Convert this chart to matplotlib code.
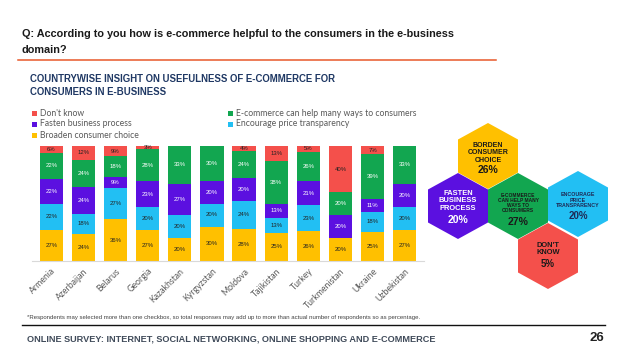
import matplotlib
matplotlib.use("Agg")
import matplotlib.pyplot as plt
from matplotlib.patches import Polygon, Rectangle
import numpy as np

# data (percent of respondents)
countries = ["Armenia", "Azerbaijan", "Belarus", "Georgia", "Kazakhstan", "Kyrgyzstan",
             "Moldova", "Tajikistan", "Turkey", "Turkmenistan", "Ukraine", "Uzbekistan"]
broaden = [27, 24, 36, 27, 20, 30, 28, 25, 26, 20, 25, 27]
encourage = [22, 18, 27, 20, 20, 20, 24, 13, 23, 0, 18, 20]
fasten = [22, 24, 9, 23, 27, 20, 20, 13, 21, 20, 11, 20]
ecommerce = [22, 24, 18, 28, 33, 30, 24, 38, 26, 20, 39, 33]
dont_know = [6, 12, 9, 3, 0, 0, 4, 13, 5, 40, 7, 0]

series_names = ["Broaden consumer choice", "Encourage price transparency", "Fasten business process",
                "E-commerce can help many ways to consumers", "Don't know"]
colors = ["#FFC000", "#22BFF3", "#5B10E0", "#12A650", "#F4504B"]
seg_text = ["#222222", "#222222", "white", "white", "#222222"]

# overall shares shown in the honeycomb
hex_labels = ["BORDEN\nCONSUMER\nCHOICE", "FASTEN\nBUSINESS\nPROCESS",
              "E-COMMERCE\nCAN HELP MANY\nWAYS TO\nCONSUMERS", "ENCOURAGE\nPRICE\nTRANSPARENCY",
              "DON'T\nKNOW"]
hex_values = [26, 20, 27, 20, 5]

fig = plt.figure(figsize=(6.38, 3.59), dpi=100)
fig.patch.set_facecolor("white")

# ---- headers
fig.text(22 / 638, 1 - 34 / 359, "Q: According to you how is e-commerce helpful to the consumers in the e-business",
         fontsize=7.85, fontweight="bold", family="Liberation Sans", color="#1a1a1a", va="center")
fig.text(22 / 638, 1 - 50 / 359, "domain?", fontsize=7.85, fontweight="bold", family="Liberation Sans",
         color="#1a1a1a", va="center")
fig.add_artist(plt.Line2D([18 / 638, 496 / 638], [1 - 60 / 359] * 2, color="#E8582A", lw=1.1))
fig.text(30 / 638, 1 - 79 / 359, "COUNTRYWISE INSIGHT ON USEFULNESS OF E-COMMERCE FOR",
         fontsize=6.95, fontweight="bold", family="Liberation Sans", color="#1F3864", va="center")
fig.text(30 / 638, 1 - 92 / 359, "CONSUMERS IN E-BUSINESS",
         fontsize=6.95, fontweight="bold", family="Liberation Sans", color="#1F3864", va="center")

# ---- legend (two columns like the original)
leg_items = [(4, 32, 113), (2, 32, 124), (0, 32, 135), (3, 228, 113), (1, 228, 124)]
for idx, lx, ly in leg_items:
    fig.add_artist(Rectangle((lx / 638, 1 - (ly + 3) / 359), 5 / 638, 5 / 359,
                             transform=fig.transFigure, color=colors[idx], lw=0))
    fig.text((lx + 8) / 638, 1 - ly / 359, series_names[idx], fontsize=6.2, family="Lato",
             color="#595959", va="center")

# ---- stacked 100% bars
ax = fig.add_axes([32 / 638, 1 - 261 / 359, 392 / 638, 115 / 359])
data = np.array([broaden, encourage, fasten, ecommerce, dont_know], dtype=float)
totals = data.sum(axis=0)
shares = data / totals * 100
x = np.arange(len(countries))
bottom = np.zeros(len(countries))
for i in range(len(series_names)):
    ax.bar(x, shares[i], 0.72, bottom=bottom, color=colors[i], lw=0)
    for j in range(len(countries)):
        if data[i, j] > 0:
            ax.text(x[j], bottom[j] + shares[i, j] / 2, f"{int(data[i, j])}%", ha="center", va="center",
                    fontsize=4.3, color=seg_text[i], family="Liberation Sans")
    bottom += shares[i]

ax.set_xlim(-0.6, len(countries) - 0.4)
ax.set_ylim(0, 100)
ax.set_yticks([])
for s in ["top", "right", "left"]:
    ax.spines[s].set_visible(False)
ax.spines["bottom"].set_color("#d9d9d9")
ax.set_xticks(x)
ax.set_xticklabels(countries, rotation=45, ha="right", rotation_mode="anchor",
                   fontsize=6.3, color="#595959", family="Lato")
ax.tick_params(axis="x", length=0, pad=4)

fig.text(27 / 638, 1 - 318 / 359,
         "*Respondents may selected more than one checkbox, so total responses may add up to more than actual number of respondents so as percentage.",
         fontsize=4.3, family="Liberation Sans", color="#404040", va="center")

# ---- footer
fig.add_artist(plt.Line2D([22 / 638, 605 / 638], [1 - 325 / 359] * 2, color="#111111", lw=1.0))
fig.text(27 / 638, 1 - 339 / 359, "ONLINE SURVEY: INTERNET, SOCIAL NETWORKING, ONLINE SHOPPING AND E-COMMERCE",
         fontsize=6.6, fontweight="bold", family="Liberation Sans", color="#404B5A", va="center")
fig.text(604 / 638, 1 - 338 / 359, "26", fontsize=9.5, fontweight="bold", family="Liberation Sans",
         color="#222222", va="center", ha="right")

# ---- honeycomb summary, drawn in pixel coordinates
hx = fig.add_axes([0, 0, 1, 1], zorder=-1)
hx.set_xlim(0, 638)
hx.set_ylim(359, 0)
hx.axis("off")
hw, hh = 60, 66
hex_centers = [(488, 156), (458, 206), (518, 206), (578, 204), (548, 256)]
hex_colors = ["#FFC000", "#5B10E0", "#12A650", "#22BFF3", "#F4504B"]
text_colors = ["#1a1a1a", "white", "#1a1a1a", "#1F2A55", "#1a1a1a"]
label_sizes = [5.0, 5.4, 3.5, 3.8, 5.4]
value_sizes = [7.5, 7.5, 7.5, 7.0, 7.0]
label_y = [153, 201, 203, 200, 249]
value_y = [170, 220, 222, 216, 264]
for k in range(len(hex_values)):
    cx, cy = hex_centers[k]
    verts = [(cx, cy - hh / 2), (cx + hw / 2, cy - hh / 4), (cx + hw / 2, cy + hh / 4),
             (cx, cy + hh / 2), (cx - hw / 2, cy + hh / 4), (cx - hw / 2, cy - hh / 4)]
    hx.add_patch(Polygon(verts, closed=True, color=hex_colors[k], lw=0))
    hx.text(cx, label_y[k], hex_labels[k], ha="center", va="center", fontsize=label_sizes[k],
            fontweight="bold", color=text_colors[k], family="Liberation Sans", linespacing=1.05)
    hx.text(cx, value_y[k], f"{hex_values[k]}%", ha="center", va="center", fontsize=value_sizes[k],
            fontweight="bold", color=text_colors[k], family="Liberation Sans")

fig.savefig("out.png", dpi=100)
